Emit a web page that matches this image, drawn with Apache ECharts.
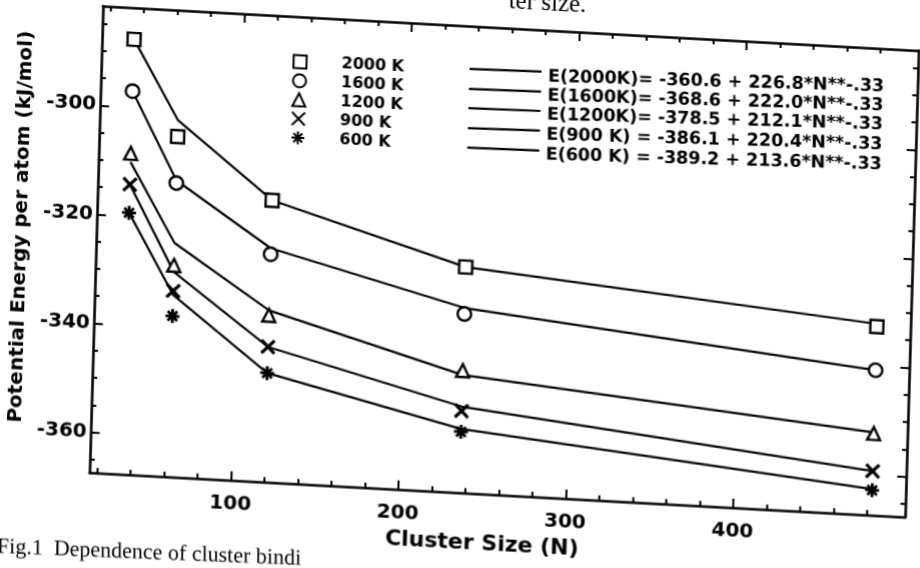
<!DOCTYPE html>
<html><head><meta charset="utf-8">
<script src="https://cdn.jsdelivr.net/npm/echarts@6/dist/echarts.min.js"></script>
<style>
html,body{margin:0;padding:0;width:920px;height:568px;overflow:hidden;background:#fff;}
#chart{position:absolute;left:0;top:0;width:1000px;height:650px;transform-origin:0 0;
  transform:matrix(0.99939,0.05453,-0.02891,0.99893,-29.07,-65.24);}
</style></head><body><div id="chart"></div>
<script>
// ---- data ----
const clusterSize = [34.6, 62.3, 119.8, 236.4, 482.7];
const seriesNames = ['2000 K', '1600 K', '1200 K', '900 K', '600 K'];
// simulated points (markers)
const e2000 = [-287.6, -305.0, -315.7, -326.0, -332.8];
const e1600 = [-297.1, -313.5, -325.6, -334.6, -340.8];
const e1200 = [-308.5, -328.6, -336.8, -345.0, -352.4];
const e900  = [-314.2, -333.3, -342.6, -352.4, -359.3];
const e600  = [-319.4, -337.9, -347.4, -356.2, -362.8];
// fitted curves (solid lines)
const fit2000 = [-287.6, -302.0, -315.7, -326.0, -332.3];
const fit1600 = [-297.1, -313.0, -324.5, -333.5, -340.8];
const fit1200 = [-310.1, -324.5, -335.9, -345.8, -352.2];
const fit900  = [-314.2, -329.8, -342.6, -351.6, -359.3];
const fit600  = [-319.4, -334.0, -347.4, -355.7, -362.6];
const fitLabels = [
  'E(2000K)= -360.6 + 226.8*N**-.33',
  'E(1600K)= -368.6 + 222.0*N**-.33',
  'E(1200K)= -378.5 + 212.1*N**-.33',
  'E(900 K) = -386.1 + 220.4*N**-.33',
  'E(600 K) = -389.2 + 213.6*N**-.33'
];
const xTickLabels = [100, 200, 300, 400];
const yTickLabels = [-360, -340, -320, -300];
const xRange = [15.5, 502.8];
const yRange = [-367.4, -281.8];

const xMinor = [], yMinor = [];
for (let v = 20; v <= 480; v += 20) if (v % 100) xMinor.push(v);
for (let v = -365; v <= -285; v += 5) if (v % 20) yMinor.push(v);

const FONT = '"DejaVu Sans", sans-serif';
const SERIF = '"Liberation Serif", "Times New Roman", serif';
const markers = [
  {symbol: 'rect', size: 13, bw: 2.4},
  {symbol: 'circle', size: 13.5, bw: 2.4},
  {symbol: 'triangle', size: 13, bw: 2.4},
  {symbol: 'path://M0,0L10,10M10,0L0,10', size: 13, bw: 3.2},
  {symbol: 'path://M5,0L5,10M0,5L10,5M1.6,1.6L8.4,8.4M8.4,1.6L1.6,8.4', size: 14, bw: 2.8}
];
const pts = [e2000, e1600, e1200, e900, e600];
const fits = [fit2000, fit1600, fit1200, fit900, fit600];

function xAx(pos, ticks, len, showLine, withLabel) {
  return {
    type: 'value', position: pos, min: xRange[0], max: xRange[1], offset: 0,
    axisLine: {show: showLine, onZero: false, lineStyle: {color: '#000', width: 2.6}},
    axisTick: {show: true, inside: true, length: len, customValues: ticks, lineStyle: {color: '#000', width: 2}},
    axisLabel: withLabel ? {show: true, customValues: xTickLabels, margin: 14,
      fontFamily: FONT, fontWeight: 'bold', fontSize: 20, color: '#000'} : {show: false},
    splitLine: {show: false},
    name: withLabel ? 'Cluster Size (N)' : '', nameLocation: 'middle', nameGap: 37,
    nameTextStyle: {fontFamily: FONT, fontWeight: 'bold', fontSize: 22, color: '#000', padding: [0, 28, 0, 0]}
  };
}
function yAx(pos, ticks, len, showLine, withLabel) {
  return {
    type: 'value', position: pos, min: yRange[0], max: yRange[1], offset: 0,
    axisLine: {show: showLine, onZero: false, lineStyle: {color: '#000', width: 2.6}},
    axisTick: {show: true, inside: true, length: len, customValues: ticks, lineStyle: {color: '#000', width: 2}},
    axisLabel: withLabel ? {show: true, customValues: yTickLabels, margin: 4,
      fontFamily: FONT, fontWeight: 'bold', fontSize: 20, color: '#000'} : {show: false},
    splitLine: {show: false},
    name: withLabel ? 'Potential Energy per atom (kJ/mol)' : '', nameLocation: 'middle', nameGap: 63,
    nameTextStyle: {fontFamily: FONT, fontWeight: 'bold', fontSize: 20, color: '#000', padding: [0, 0, 0, 17]}
  };
}

const series = [];
for (let i = 0; i < 5; i++) {
  series.push({
    name: 'fit ' + seriesNames[i], type: 'line', xAxisIndex: 0, yAxisIndex: 0,
    data: clusterSize.map((n, j) => [n, fits[i][j]]),
    symbol: 'none', showSymbol: false, silent: true, z: 2,
    lineStyle: {color: '#000', width: 2.2}
  });
}
for (let i = 0; i < 5; i++) {
  series.push({
    name: seriesNames[i], type: 'scatter', xAxisIndex: 0, yAxisIndex: 0,
    data: clusterSize.map((n, j) => [n, pts[i][j]]),
    symbol: markers[i].symbol, symbolSize: markers[i].size, z: 3,
    itemStyle: {color: '#fff', borderColor: '#000', borderWidth: markers[i].bw, opacity: 1}
  });
}

const graphics = [];
const eqLineY1 = [106.9, 126.9, 146.2, 166.2, 185.6];
const eqLineY2 = [105.7, 125.7, 145.0, 164.7, 184.7];
const eqTextY = [110.7, 129.7, 148.7, 168.7, 188.7];
for (let i = 0; i < 5; i++) {
  graphics.push({type: 'line', shape: {x1: 502, y1: eqLineY1[i], x2: 574, y2: eqLineY2[i]},
    style: {stroke: '#000', lineWidth: 2.2}});
  graphics.push({type: 'text', x: 580.6, y: eqTextY[i], rotation: 0.0255,
    style: {text: fitLabels[i], fontFamily: FONT, fontWeight: 'bold', fontSize: 17.5, fill: '#000',
      align: 'left', verticalAlign: 'middle'}});
}
graphics.push({type: 'text', x: 43.7, y: 610.4, rotation: 0.0145,
  style: {text: 'Fig.1  Dependence of cluster bindi', fontFamily: SERIF, fontSize: 22,
    fill: '#000', align: 'left', verticalAlign: 'middle'}});
graphics.push({type: 'text', x: 578, y: 37,
  style: {text: 'ter size.', fontFamily: SERIF, fontSize: 25,
    fill: '#000', align: 'center', verticalAlign: 'middle'}});

const chart = echarts.init(document.getElementById('chart'), null, {renderer: 'canvas'});
chart.setOption({
  backgroundColor: '#fff',
  animation: false,
  grid: {left: 134, top: 64, width: 816, height: 467, containLabel: false},
  xAxis: [
    xAx('bottom', xTickLabels, 9, true, true),
    xAx('bottom', xMinor, 5, false, false),
    xAx('top', xTickLabels, 9, true, false),
    xAx('top', xMinor, 5, false, false)
  ],
  yAxis: [
    yAx('left', yTickLabels, 9, true, true),
    yAx('left', yMinor, 5, false, false),
    yAx('right', yTickLabels, 9, true, false),
    yAx('right', yMinor, 5, false, false)
  ],
  legend: {
    data: seriesNames, orient: 'vertical', left: 325, top: 101, padding: 0,
    itemWidth: 13, itemHeight: 13, itemGap: 3, selectedMode: false,
    textStyle: {fontFamily: FONT, fontWeight: 'bold', fontSize: 16, lineHeight: 16, color: '#000', padding: [0, 0, 0, 30]}
  },
  graphic: graphics,
  series: series
});
</script></body></html>
